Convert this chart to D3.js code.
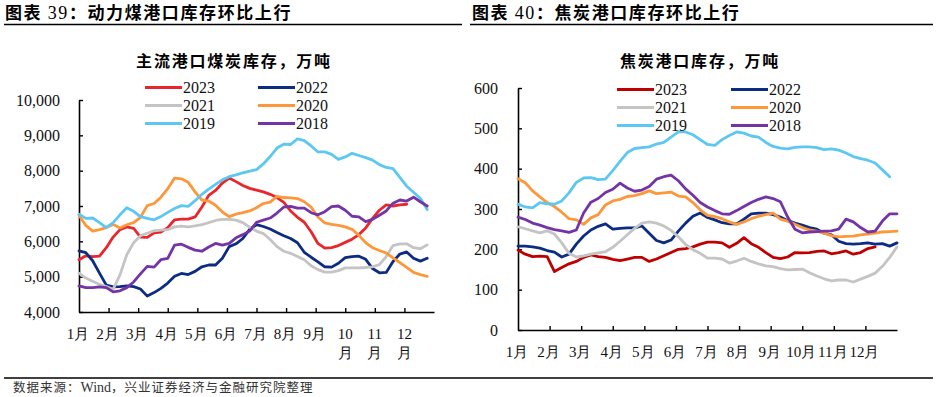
<!DOCTYPE html>
<html>
<head>
<meta charset="utf-8">
<script src="https://cdn.jsdelivr.net/npm/d3@7"></script>
<style>
  body { margin: 0; background: #fff; }
  svg { display: block; }
</style>
</head>
<body>
<svg id="chart" width="937" height="397"></svg>
<script>
// month tick labels (weekly data, 52 weeks per year)
const monthLabels = ["1月","2月","3月","4月","5月","6月","7月","8月","9月","10月","11月","12月"];
const years = ["2023","2022","2021","2020","2019","2018"];

// 主流港口煤炭库存，万吨 (weekly)
const coal2023 = [5480,5590,5570,5580,5820,6120,6330,6410,6370,6120,6110,6240,6260,6390,6610,6630,6630,6690,6970,7300,7440,7650,7790,7690,7580,7500,7450,7400,7330,7240,7100,6860,6680,6540,6270,5940,5810,5820,5880,5970,6060,6190,6380,6650,6880,7030,7000,7030,7050];
const coal2022 = [5730,5680,5450,5100,4760,4710,4720,4740,4720,4650,4450,4550,4670,4820,5010,5090,5060,5150,5280,5330,5330,5520,5850,5930,6080,6340,6470,6420,6350,6250,6160,6080,5960,5690,5550,5420,5280,5270,5380,5540,5570,5580,5490,5230,5110,5120,5430,5640,5700,5520,5440,5520];
const coal2021 = [5100,4960,4870,4780,4720,4640,5050,5620,5960,6160,6230,6300,6320,6330,6410,6430,6410,6440,6470,6530,6590,6620,6620,6600,6530,6400,6290,6220,6050,5850,5720,5660,5570,5480,5310,5200,5130,5130,5170,5250,5250,5250,5260,5280,5340,5570,5880,5930,5930,5820,5790,5900];
const coal2020 = [6740,6450,6290,6330,6390,6480,6380,6470,6530,6680,7010,7070,7250,7490,7790,7770,7670,7400,7170,7140,7020,6830,6700,6770,6810,6860,6950,7070,7110,7270,7240,7230,7210,7120,6970,6690,6520,6480,6450,6410,6340,6170,5960,5820,5740,5670,5530,5400,5260,5120,5060,5010];
const coal2019 = [6770,6650,6660,6530,6390,6530,6750,6950,6850,6700,6650,6610,6700,6820,6930,7010,6990,7150,7330,7480,7610,7740,7830,7880,7940,7990,8030,8190,8400,8640,8750,8740,8900,8850,8700,8530,8530,8460,8320,8390,8490,8430,8370,8300,8170,8090,8060,7810,7560,7390,7220,6900];
const coal2018 = [4740,4690,4690,4710,4690,4570,4600,4690,4850,5080,5290,5270,5480,5520,5890,5920,5830,5750,5720,5840,5940,5890,5940,6100,6190,6290,6540,6600,6660,6800,6970,6990,6940,6940,6810,6750,6840,6980,7000,6880,6710,6690,6560,6620,6740,6860,7080,7170,7140,7250,7120,7000];

// 焦炭港口库存，万吨 (weekly)
const coke2023 = [198,188,182,183,182,145,155,164,170,180,186,182,180,175,172,176,180,180,170,176,184,192,200,202,206,213,218,218,216,205,215,229,214,205,192,180,177,181,192,191,192,195,196,189,192,196,188,192,202,206];
const coke2022 = [208,208,206,203,197,193,181,188,213,233,248,257,263,250,252,253,253,258,240,222,216,223,245,265,282,290,279,273,266,263,263,275,288,290,290,286,280,271,265,260,254,250,240,236,220,214,213,214,216,213,214,208,216];
const coke2021 = [256,251,246,241,246,238,216,190,181,184,188,191,194,205,220,236,252,265,268,265,258,247,231,212,199,190,178,178,176,166,171,178,170,164,159,157,152,149,150,151,142,134,127,122,124,124,119,126,133,141,158,180,206];
const coke2020 = [375,365,345,330,316,306,292,276,273,262,278,286,310,320,324,331,333,338,345,338,340,342,332,330,316,298,284,281,276,268,262,268,276,282,286,290,275,270,262,254,248,245,240,234,231,232,233,236,238,240,243,244,245];
const coke2019 = [312,305,303,316,313,312,320,340,366,377,378,373,374,395,418,440,450,452,454,461,465,478,491,491,484,472,460,458,472,482,491,488,481,478,465,455,451,449,453,454,454,452,447,449,446,439,430,425,421,414,397,380];
const coke2018 = [280,274,265,260,254,249,246,242,248,290,317,326,341,349,364,352,344,347,356,374,380,384,370,350,334,316,305,296,288,287,296,306,316,324,330,326,318,280,250,241,243,244,245,246,250,275,268,254,243,245,270,288,288];

const svg = d3.select("#chart");
const serif = "'Times New Roman','Liberation Serif',serif";
const cjk = "'Noto Sans CJK SC','Noto Sans',sans-serif";

// header / footer
function header(x, num, text, lineX1, lineX2) {
  const t = svg.append("text").attr("x", x).attr("y", 19)
    .attr("font-family", cjk).attr("font-weight", 700)
    .attr("font-size", 17).attr("letter-spacing", 1.6).attr("fill", "#000");
  t.append("tspan").text("图表 ");
  t.append("tspan").attr("font-family", serif).attr("font-weight", 400).attr("font-size", 18).text(num);
  t.append("tspan").text("：" + text);
  svg.append("line").attr("x1", lineX1).attr("x2", lineX2).attr("y1", 24.5).attr("y2", 24.5)
    .attr("stroke", "#000").attr("stroke-width", 1.5);
}
header(5, "39", "动力煤港口库存环比上行", 4, 462);
header(472, "40", "焦炭港口库存环比上行", 470, 933);

svg.append("line").attr("x1", 4).attr("x2", 933).attr("y1", 378).attr("y2", 378)
  .attr("stroke", "#000").attr("stroke-width", 1.3);
const foot = svg.append("text").attr("x", 13).attr("y", 392)
  .attr("font-family", cjk).attr("font-size", 12.5).attr("letter-spacing", 1).attr("fill", "#333");
foot.append("tspan").text("数据来源：");
foot.append("tspan").attr("font-family", serif).attr("font-size", 14).attr("letter-spacing", 0).text("Wind");
foot.append("tspan").text("，兴业证券经济与金融研究院整理");

function drawPanel(p) {
  const x = d3.scaleLinear().domain([0, 52]).range(p.xRange);
  const y = d3.scaleLinear().domain(p.yDomain).range(p.yRange);
  const g = svg.append("g");

  g.append("text").attr("x", p.titleX).attr("y", 67).attr("text-anchor", "middle")
    .attr("font-family", cjk).attr("font-weight", 700).attr("font-size", 16)
    .attr("letter-spacing", 1.8).attr("fill", "#000").text(p.title);

  // y axis
  const ya = g.append("g").attr("transform", `translate(${p.xRange[0]},0)`)
    .call(d3.axisLeft(y).tickValues(p.yTicks).tickSize(-4).tickSizeOuter(0)
      .tickPadding(p.yPad).tickFormat(d3.format(",")));
  ya.selectAll("text").attr("font-family", serif).attr("font-size", 16).attr("fill", "#111");

  // x axis, ticks at month starts
  const monthPos = d3.range(12).map(i => i * 52 / 12);
  const xa = g.append("g").attr("transform", `translate(0,${p.yRange[0]})`)
    .call(d3.axisBottom(x).tickValues(monthPos.slice(1)).tickSize(-4).tickSizeOuter(0).tickFormat(""));
  [ya, xa].forEach(a => {
    a.select(".domain").attr("stroke", "#000").attr("stroke-width", 1.6);
    a.selectAll(".tick line").attr("stroke", "#000").attr("stroke-width", 1.4);
  });

  monthLabels.forEach((m, i) => {
    const t = g.append("text").attr("x", x(monthPos[i]) - 1).attr("text-anchor", "middle")
      .attr("font-family", serif).attr("font-size", 15).attr("fill", "#111");
    if (p.wrap && m.length > 2) {
      t.append("tspan").attr("x", x(monthPos[i])).attr("y", p.labelY).text(m.slice(0, 2));
      t.append("tspan").attr("x", x(monthPos[i])).attr("y", p.labelY + 19).text("月");
    } else {
      t.attr("y", p.labelY).text(m);
    }
  });

  const line = d3.line().x((d, i) => x(i)).y(d => y(d));
  p.series.forEach((s, k) => {
    g.append("path").datum(s).attr("d", line)
      .attr("fill", "none").attr("stroke", p.colors[k]).attr("stroke-width", 2.8)
      .attr("stroke-linejoin", "round").attr("stroke-linecap", "round");
  });

  // legend: two columns, three rows
  years.forEach((yr, k) => {
    const col = k % 2, row = Math.floor(k / 2);
    const lx = p.legendX[col], ly = p.legendY[row];
    g.append("line").attr("x1", lx).attr("x2", lx + 37).attr("y1", ly).attr("y2", ly)
      .attr("stroke", p.colors[k]).attr("stroke-width", 3);
    g.append("text").attr("x", lx + 38).attr("y", ly).attr("dy", "0.35em")
      .attr("font-family", serif).attr("font-size", 16).attr("fill", "#111").text(yr);
  });
}

drawPanel({
  title: "主流港口煤炭库存，万吨", titleX: 234,
  xRange: [79, 434], yRange: [312, 100], yDomain: [4000, 10000],
  yTicks: d3.range(4000, 10001, 1000), yPad: 19,
  labelY: 339, wrap: true,
  legendX: [145, 258], legendY: [87.5, 105.5, 123.5],
  colors: ["#e8262b", "#0c2c84", "#c4c4c4", "#fd973a", "#5cc8f2", "#7434a6"],
  series: [coal2023, coal2022, coal2021, coal2020, coal2019, coal2018]
});

drawPanel({
  title: "焦炭港口库存，万吨", titleX: 700,
  xRange: [518, 897], yRange: [330, 88], yDomain: [0, 600],
  yTicks: d3.range(0, 601, 100), yPad: 20,
  labelY: 357, wrap: false,
  legendX: [617, 731], legendY: [89.5, 107.5, 125.5],
  colors: ["#c00000", "#0c2c84", "#c4c4c4", "#fd973a", "#5cc8f2", "#7434a6"],
  series: [coke2023, coke2022, coke2021, coke2020, coke2019, coke2018]
});
</script>
</body>
</html>
